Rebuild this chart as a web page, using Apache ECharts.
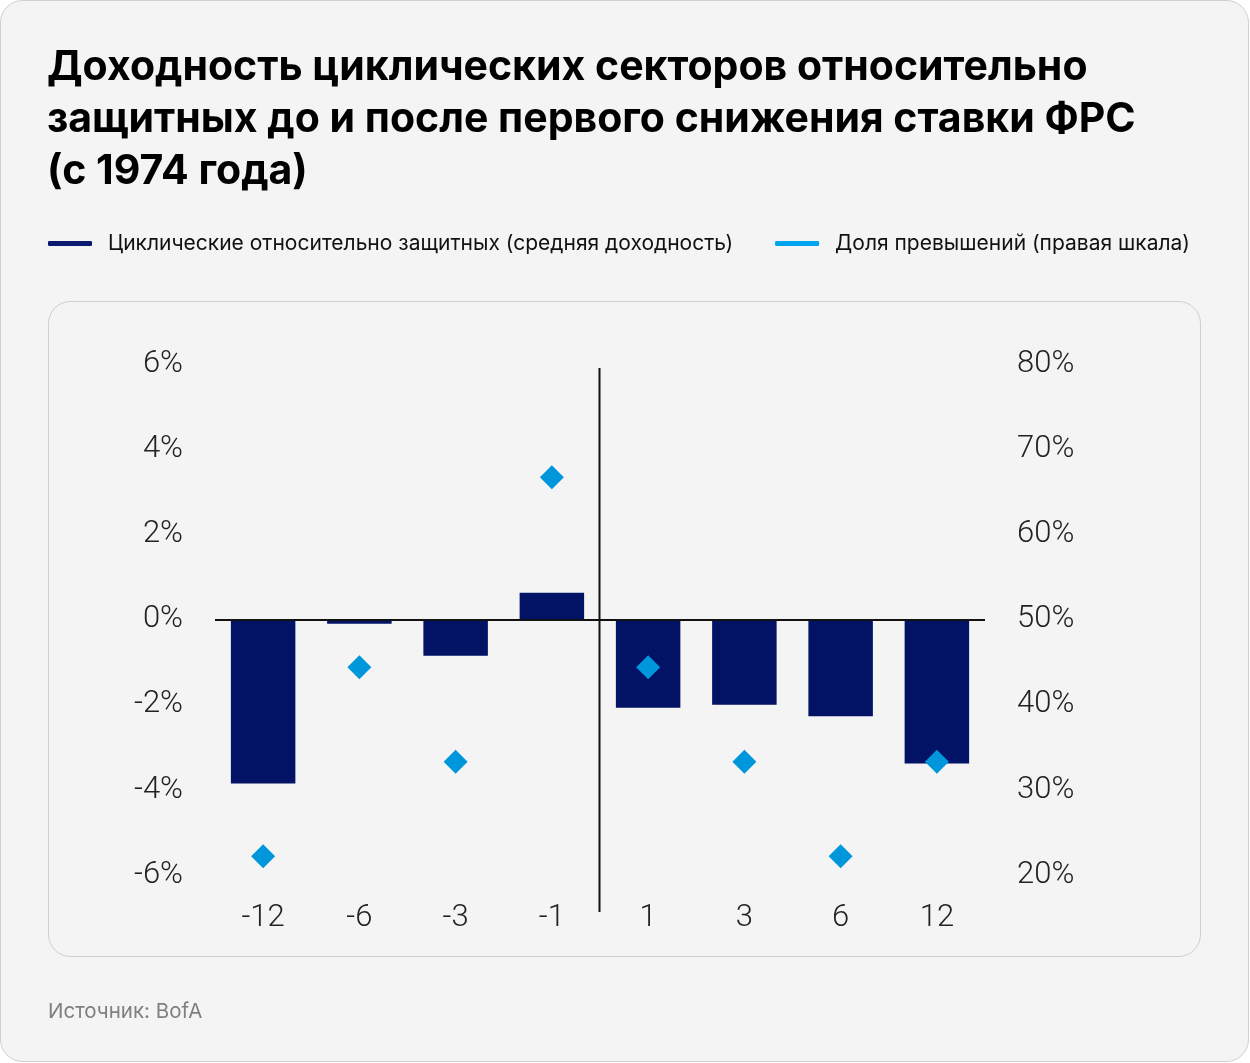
<!DOCTYPE html>
<html><head><meta charset="utf-8">
<script src="https://cdn.jsdelivr.net/npm/echarts@6/dist/echarts.min.js"></script>
<style>html,body{margin:0;padding:0;background:#fff}#c{width:1250px;height:1063px}</style>
</head><body><div id="c"></div>
<script>
const categories = ['-12','-6','-3','-1','1','3','6','12'];
const avgReturn = [-3.85, -0.1, -0.85, 0.63, -2.07, -2.0, -2.27, -3.38];
const hitRate = [22.2, 44.4, 33.3, 66.7, 44.4, 33.3, 22.2, 33.3];
const leftTicks = [-6, -4, -2, 0, 2, 4, 6];
const rightTicks = [20, 30, 40, 50, 60, 70, 80];
const seriesNames = ['Циклические относительно защитных (средняя доходность)', 'Доля превышений (правая шкала)'];
const titleText = 'Доходность циклических секторов относительно\nзащитных до и после первого снижения ставки ФРС\n(с 1974 года)';
const sourceText = 'Источник: BofA';

const chart = echarts.init(document.getElementById('c'), null, {renderer:'canvas'});
const axisFont = {fontFamily:'Roboto', fontWeight:300, fontSize:31, color:'#222'};
const option = {
  backgroundColor:'transparent',
  animation:false,
  graphic:[
    {type:'rect', z:-10, shape:{x:0.5,y:0.5,width:1248,height:1061,r:22}, style:{fill:'#f4f4f4', stroke:'#cfcfcf', lineWidth:1}},
    {type:'rect', z:-9, shape:{x:48.5,y:301.5,width:1152,height:655,r:22}, style:{fill:'#f4f4f4', stroke:'#cfcfcf', lineWidth:1}},
    {type:'text', left:48, top:1001, style:{text:sourceText, font:'20.5px Inter', fill:'#808080'}}
  ],
  title:{text:titleText, left:42, top:37, textStyle:{fontFamily:'Inter', fontWeight:700, fontSize:41, lineHeight:52, color:'#000'}},
  legend:{left:43, top:228, itemWidth:44, itemHeight:5, itemGap:42, icon:'roundRect',
    textStyle:{fontFamily:'Inter', fontSize:21, color:'#111', padding:[0,0,0,11]},
    data:[{name:seriesNames[0], itemStyle:{color:'#0a1a6e'}},{name:seriesNames[1], itemStyle:{color:'#00a4ef'}}]},
  grid:{left:215, right:265, top:364, bottom:188},
  xAxis:{type:'category', data:categories, axisLine:{show:false}, axisTick:{show:false},
    axisLabel:{...axisFont, margin:28}},
  yAxis:[
    {type:'value', min:-6, max:6, interval:2, splitLine:{show:false}, axisLine:{show:false}, axisTick:{show:false},
      axisLabel:{...axisFont, margin:32, padding:[6,0,0,0], formatter:v=>v+'%'}},
    {type:'value', min:20, max:80, interval:10, splitLine:{show:false}, axisLine:{show:false}, axisTick:{show:false},
      axisLabel:{...axisFont, margin:32, padding:[6,0,0,0], formatter:v=>v+'%'}}
  ],
  series:[
    {name:seriesNames[0], type:'bar', data:avgReturn, barWidth:'67%', yAxisIndex:0, itemStyle:{color:'#021265'},
      markLine:{silent:true, symbol:'none', label:{show:false}, lineStyle:{color:'#111', width:2, type:'solid'}, data:[{yAxis:0}]}},
    {name:seriesNames[1], type:'scatter', data:hitRate, yAxisIndex:1, symbol:'diamond', symbolSize:[24,24], itemStyle:{color:'#0096dc', opacity:1}, z:5}
  ]
};
chart.setOption(option);
const xa = chart.convertToPixel({xAxisIndex:0}, 3);
const xb = chart.convertToPixel({xAxisIndex:0}, 4);
const yTop = chart.convertToPixel({yAxisIndex:0}, 6);
const yBot = chart.convertToPixel({yAxisIndex:0}, -6);
const xm = Math.round((xa+xb)/2)-0.5;
chart.setOption({graphic:[...option.graphic,
  {type:'line', z:10, shape:{x1:xm, y1:yTop+4, x2:xm, y2:yBot+37}, style:{stroke:'#111', lineWidth:2}}]});
</script></body></html>
